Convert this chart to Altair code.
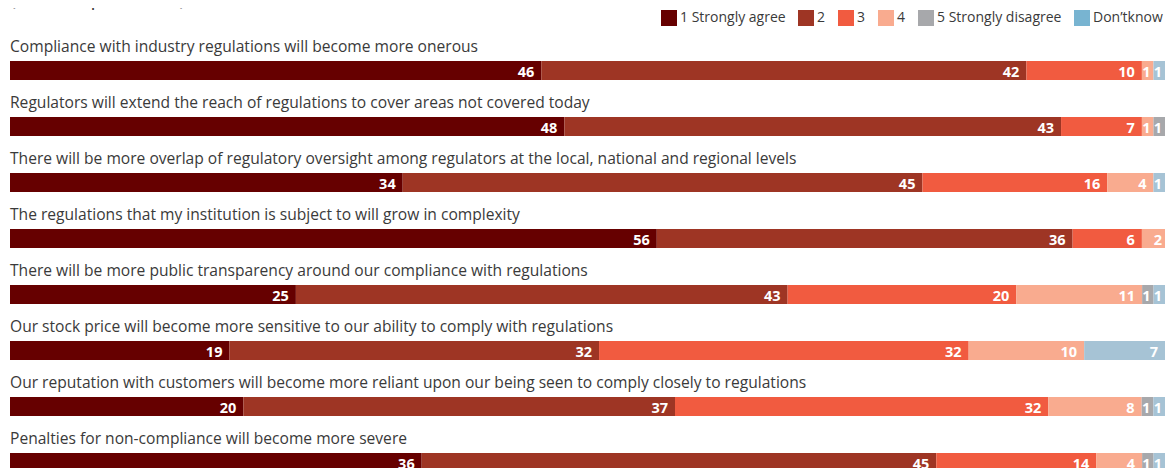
import altair as alt
import pandas as pd

title_text = "(% of respondents)"
statements = [
    "Compliance with industry regulations will become more onerous",
    "Regulators will extend the reach of regulations to cover areas not covered today",
    "There will be more overlap of regulatory oversight among regulators at the local, national and regional levels",
    "The regulations that my institution is subject to will grow in complexity",
    "There will be more public transparency around our compliance with regulations",
    "Our stock price will become more sensitive to our ability to comply with regulations",
    "Our reputation with customers will become more reliant upon our being seen to comply closely to regulations",
    "Penalties for non-compliance will become more severe",
]
levels = ["1 Strongly agree", "2", "3", "4", "5 Strongly disagree", "Don\u2019tknow"]
legend_colors = ["#660000", "#9e3524", "#f15b40", "#f9ab8f", "#a7a8ab", "#78b4d1"]
dk_bar_color = "#a6c3d5"

v_1 = [46, 48, 34, 56, 25, 19, 20, 36]
v_2 = [42, 43, 45, 36, 43, 32, 37, 45]
v_3 = [10, 7, 16, 6, 20, 32, 32, 14]
v_4 = [1, 1, 4, 2, 11, 10, 8, 4]
v_5 = [0, 1, 0, 0, 1, 0, 1, 1]
v_dk = [1, 0, 1, 0, 1, 7, 1, 1]

series = [v_1, v_2, v_3, v_4, v_5, v_dk]
rows = []
for i, s in enumerate(statements):
    for j, lv in enumerate(levels):
        val = series[j][i]
        if val > 0:
            rows.append({"statement": s, "level": lv, "order": j, "value": val})
df = pd.DataFrame(rows)
lab_df = pd.DataFrame({"statement": statements})
title_df = pd.DataFrame({"t": [title_text]})

FONT = "Open Sans"
TXT = "#3a3a3a"
PLOT_W = 1155

yscale = alt.Scale(domain=statements, range=[34.5, 482.5], paddingInner=0, paddingOuter=0)
xscale = alt.Scale(domain=[0, 1], range=[0, PLOT_W], nice=False, zero=False)

base = alt.Chart(df).transform_stack(
    stack="value",
    groupby=["statement"],
    as_=["x0", "x1"],
    offset="normalize",
    sort=[alt.SortField("order", order="ascending")],
)

bars = base.mark_bar(height=19, strokeWidth=0).encode(
    x=alt.X("x0:Q", scale=xscale, axis=None),
    x2="x1:Q",
    y=alt.Y("statement:N", scale=yscale, axis=None),
    color=alt.condition(
        alt.datum.level == "Don\u2019tknow",
        alt.value(dk_bar_color),
        alt.Color(
            "level:N",
            scale=alt.Scale(domain=levels, range=legend_colors),
            legend=alt.Legend(
                title=None,
                orient="none",
                legendX=651,
                legendY=2,
                direction="horizontal",
                symbolType="square",
                symbolSize=256,
                symbolStrokeWidth=0,
                labelFont=FONT,
                labelFontSize=14,
                labelColor=TXT,
                labelOffset=3,
                columnPadding=12,
                padding=0,
            ),
        ),
    ),
)

big = base.transform_filter(alt.datum.value >= 3).mark_text(
    align="right", baseline="alphabetic", dx=-7, dy=6, font=FONT, fontSize=14.5,
    fontWeight="bold", color="white"
).encode(
    x=alt.X("x1:Q", scale=xscale, axis=None),
    y=alt.Y("statement:N", scale=yscale, axis=None),
    text="value:Q",
)

small = base.transform_filter(alt.datum.value < 3).mark_text(
    align="right", baseline="alphabetic", dx=-3, dy=6, font=FONT, fontSize=14.5,
    fontWeight="bold", color="white"
).encode(
    x=alt.X("x1:Q", scale=xscale, axis=None),
    y=alt.Y("statement:N", scale=yscale, axis=None),
    text="value:Q",
)

labels = alt.Chart(lab_df).mark_text(
    align="left", baseline="alphabetic", dy=-19, font=FONT, fontSize=15.6, color=TXT
).encode(
    x=alt.value(0),
    y=alt.Y("statement:N", scale=yscale, axis=None),
    text="statement:N",
)

title = alt.Chart(title_df).mark_text(
    align="left", baseline="alphabetic", font=FONT, fontSize=20, color=TXT
).encode(x=alt.value(0), y=alt.value(-3.5), text="t:N")

chart = alt.layer(bars, big, small, labels, title).properties(
    width=PLOT_W,
    height=460,
    autosize=alt.AutoSizeParams(type="none"),
    padding={"left": 2, "top": 0, "right": 0, "bottom": 0},
).configure_view(stroke=None)

chart.save("out.html", embed_options={"renderer": "svg", "actions": False})
